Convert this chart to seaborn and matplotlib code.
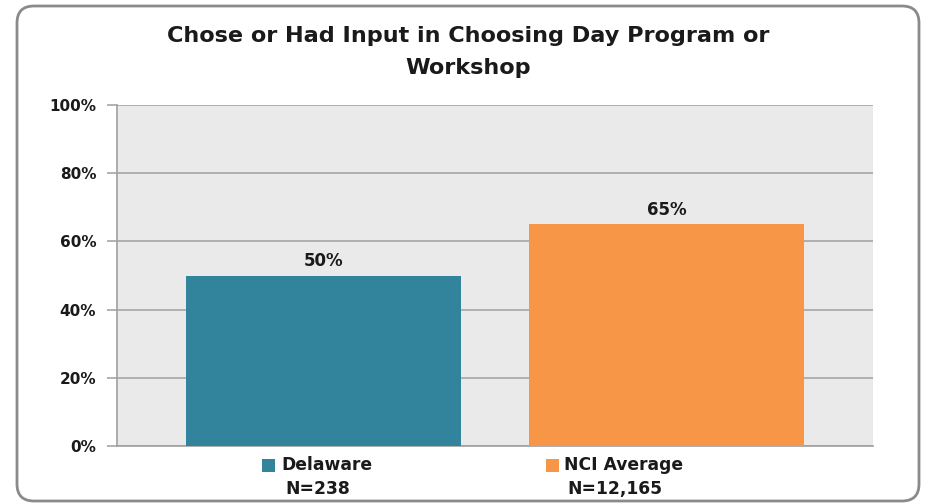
import matplotlib
matplotlib.use("Agg")
import matplotlib.pyplot as plt
import seaborn as sns
import pandas as pd
from matplotlib.patches import FancyBboxPatch
from matplotlib.transforms import blended_transform_factory

categories = ["Delaware", "NCI Average"]
sample_sizes = ["N=238", "N=12,165"]
values = [50, 65]
colors = ["#31849B", "#F79646"]
yticks = [0, 20, 40, 60, 80, 100]
title = "Chose or Had Input in Choosing Day Program or\nWorkshop"

sns.set_theme(style="white")
plt.rcParams["font.family"] = ["DejaVu Sans"]

df = pd.DataFrame({"cat": categories, "val": values})

fig = plt.figure(figsize=(9.26, 5.03), dpi=100, facecolor="white")
border = FancyBboxPatch((0.17, 0.02), 9.02, 4.95,
                        boxstyle="round,pad=0,rounding_size=0.17",
                        transform=fig.dpi_scale_trans, facecolor="none",
                        edgecolor="#8A8A8A", linewidth=2, zorder=10)
fig.patches.append(border)

ax = fig.add_axes([117 / 926, 1 - 446 / 503, (873 - 117) / 926, (446 - 105) / 503])
ax.set_facecolor("#EAEAEA")
sns.barplot(data=df, x="cat", y="val", hue="cat", palette=colors, dodge=False,
            width=0.8, legend=False, ax=ax, zorder=3, saturation=1, linewidth=0)
ax.set_ylim(0, 100)
ax.set_xlim(-0.6, 1.6)
ax.set_yticks(yticks)
ax.set_yticklabels([f"{t}%" for t in yticks], fontsize=11, fontweight="bold", color="#1a1a1a")
ax.yaxis.grid(True, color="#A6A6A6", linewidth=1.2, zorder=0)
ax.set_axisbelow(True)
ax.tick_params(axis="y", length=7, color="#A6A6A6", width=1.2, pad=8, left=True)
ax.set_xticks([])
ax.set_xlabel("")
ax.set_ylabel("")
for s in ["top", "right"]:
    ax.spines[s].set_visible(False)
ax.spines["left"].set_color("#A0A0A0")
ax.spines["left"].set_linewidth(1.2)
ax.spines["bottom"].set_color("#A0A0A0")
ax.spines["bottom"].set_linewidth(1.2)

for c in ax.containers:
    ax.bar_label(c, labels=[f"{v:.0f}%" for v in c.datavalues], padding=4,
                 fontsize=12, fontweight="bold", color="#1a1a1a")

trans = blended_transform_factory(ax.transData, ax.transAxes)
label_offsets = [0.012, -0.126]
n_offsets = [-0.016, -0.15]
square_offsets = [-0.158, -0.333]
for i, (cat, n) in enumerate(zip(categories, sample_sizes)):
    ax.text(i + label_offsets[i], -0.056, cat, transform=trans, ha="center", va="center",
            fontsize=12.3, fontweight="bold", color="#1a1a1a")
    ax.text(i + n_offsets[i], -0.126, n, transform=trans, ha="center", va="center",
            fontsize=12.3, fontweight="bold", color="#1a1a1a")

# colored legend squares
ax.scatter([i + square_offsets[i] for i in range(len(categories))],
           [-0.056] * len(categories), transform=trans, marker="s",
           s=90, c=colors, clip_on=False, zorder=5, linewidths=0)

fig.text(468 / 926, 1 - 51.5 / 503, title, ha="center", va="center", fontsize=16.1,
         fontweight="bold", color="#1a1a1a", linespacing=1.75)

fig.savefig("out.png", dpi=100)
